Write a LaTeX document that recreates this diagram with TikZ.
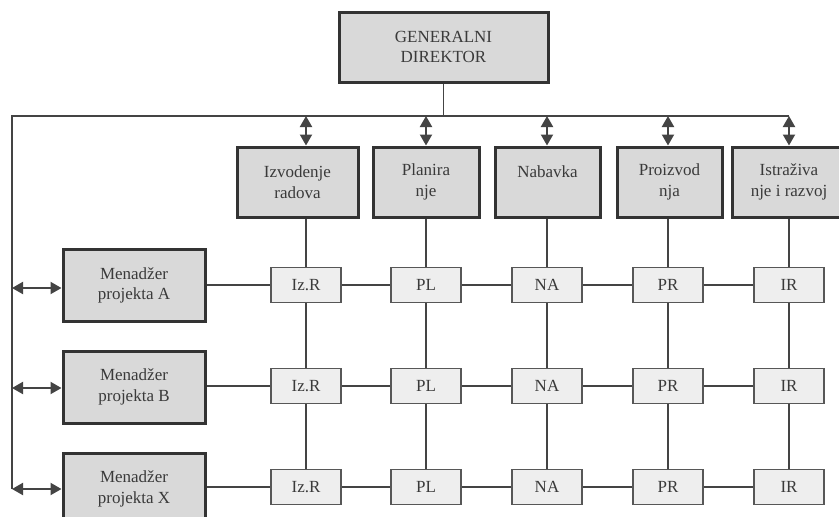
\documentclass[tikz,border=0pt]{standalone}
\usepackage{fontspec}
\setmainfont{Liberation Serif}
\usetikzlibrary{arrows.meta}
\definecolor{boxfill}{HTML}{D9D9D9}
\definecolor{cellfill}{HTML}{EEEEEE}
\definecolor{edge}{HTML}{333333}
\definecolor{wire}{HTML}{444444}
\definecolor{ink}{HTML}{3A3A3A}
\begin{document}
\begin{tikzpicture}[x=1pt,y=-1pt,
  every node/.style={font=\fontsize{17}{20.5}\selectfont, text=ink, align=center, inner sep=0pt},
  mainbox/.style={draw=edge, line width=3pt, fill=boxfill, rectangle},
  cell/.style={draw=wire!90, line width=1.4pt, fill=cellfill, rectangle, minimum width=70pt, minimum height=35pt},
  wireline/.style={draw=wire, line width=1.5pt},
  biarrow/.style={draw=wire, line width=2pt, {Triangle[length=11pt,width=12pt]}-{Triangle[length=11pt,width=12pt]}}
]
\useasboundingbox (0,0) rectangle (839,517);
\fill[white] (0,0) rectangle (839,517);

% top management
\node[mainbox, minimum width=209pt, minimum height=70pt] (gd) at (443.5,47) {GENERALNI\\DIREKTOR};

% functional departments
\node[mainbox, minimum width=121pt, minimum height=70pt] (d1) at (297.5,182) {Izvodenje\\radova};
\node[mainbox, minimum width=106pt, minimum height=70pt] (d2) at (426,182) {Planira\\nje};
\node[mainbox, minimum width=105pt, minimum height=70pt] (d3) at (547.5,182) {Nabavka\\\mbox{}};
\node[mainbox, minimum width=105pt, minimum height=70pt] (d4) at (669.5,182) {Proizvod\\nja};
\node[mainbox, minimum width=114pt, minimum height=70pt] (d5) at (789,182) {Istraživa\\nje i razvoj};

% project managers
\node[mainbox, minimum width=142pt, minimum height=72pt] (mA) at (134,285.5) {Menadžer\\projekta A};
\node[mainbox, minimum width=142pt, minimum height=72pt] (mB) at (134,387) {Menadžer\\projekta B};
\node[mainbox, minimum width=142pt, minimum height=72pt] (mX) at (134,489) {Menadžer\\projekta X};

% matrix cells
\foreach \r/\y in {1/285, 2/386, 3/487} {
  \node[cell] (c\r1) at (306,\y) {Iz.R};
  \node[cell] (c\r2) at (426,\y) {PL};
  \node[cell] (c\r3) at (547,\y) {NA};
  \node[cell] (c\r4) at (668,\y) {PR};
  \node[cell] (c\r5) at (789,\y) {IR};
}

% coordination bus
\coordinate (busL) at (12,116);
\coordinate (busB) at (12,489);
\coordinate (busR) at (789,116);
\draw[wireline] (busB) -- (busL) -- (busR);
\draw[wireline] (gd.south) -- (gd.south |- busL);

% bus to departments
\foreach \k in {1,...,5} {
  \draw[biarrow] (c1\k |- busL) -- (c1\k |- d\k.north);
  \draw[wireline] (c1\k |- d\k.south) -- (c1\k.north);
  \draw[wireline] (c1\k.south) -- (c2\k.north);
  \draw[wireline] (c2\k.south) -- (c3\k.north);
}

% bus to project managers
\draw[biarrow] (12,288) -- (mA.west |- 0,288);
\draw[biarrow] (12,388) -- (mB.west |- 0,388);
\draw[biarrow] (12,489) -- (mX.west |- 0,489);

% project rows
\foreach \r/\m in {1/mA, 2/mB, 3/mX} {
  \draw[wireline] (\m.east |- c\r1) -- (c\r1.west);
  \draw[wireline] (c\r1.east) -- (c\r2.west);
  \draw[wireline] (c\r2.east) -- (c\r3.west);
  \draw[wireline] (c\r3.east) -- (c\r4.west);
  \draw[wireline] (c\r4.east) -- (c\r5.west);
}
\end{tikzpicture}
\end{document}
